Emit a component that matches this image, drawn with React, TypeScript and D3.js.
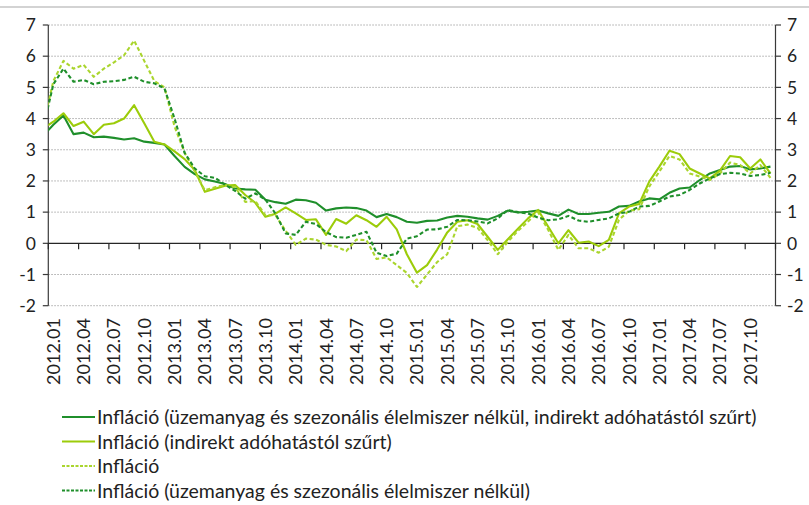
import React from 'react';
import * as d3 from 'd3';

// categories: monthly, 2012.01 - 2017.12
const years = ['2012', '2013', '2014', '2015', '2016', '2017'];
const months = ['01', '02', '03', '04', '05', '06', '07', '08', '09', '10', '11', '12'];
const categories = years.flatMap(y => months.map(m => `${y}.${m}`));
const yTicks = [-2, -1, 0, 1, 2, 3, 4, 5, 6, 7];

// value of 2011.12, only the part right of the axis is visible
const leadIn = { coreTax: 3.46, tax: 3.68, headline: 3.8, core: 3.7 };

// Infláció (üzemanyag és szezonális élelmiszer nélkül, indirekt adóhatástól szűrt)
const coreTax = [
  3.8, 4.1, 3.5, 3.55, 3.4, 3.42, 3.38, 3.33, 3.37, 3.26, 3.22, 3.17,
  2.8, 2.45, 2.22, 2.05, 1.98, 1.9, 1.76, 1.73, 1.72, 1.4, 1.32, 1.27,
  1.4, 1.38, 1.3, 1.05, 1.12, 1.15, 1.13, 1.05, 0.84, 0.94, 0.84, 0.69,
  0.66, 0.72, 0.73, 0.83, 0.88, 0.85, 0.8, 0.76, 0.88, 1.05, 0.99, 1.01,
  1.05, 0.96, 0.88, 1.08, 0.94, 0.94, 0.98, 1.01, 1.18, 1.2, 1.34, 1.44,
  1.41, 1.62, 1.76, 1.79, 2.03, 2.24, 2.35, 2.46, 2.48, 2.37, 2.4, 2.46,
];
// Infláció (indirekt adóhatástól szűrt)
const taxFiltered = [
  3.9, 4.17, 3.76, 3.9, 3.5, 3.8, 3.85, 4.0, 4.43, 3.85, 3.26, 3.17,
  2.95, 2.7, 2.35, 1.65, 1.75, 1.85, 1.87, 1.55, 1.3, 0.85, 0.95, 1.15,
  0.96, 0.75, 0.77, 0.27, 0.78, 0.63, 0.9, 0.74, 0.53, 0.85, 0.45, -0.35,
  -0.94, -0.7, -0.2, 0.35, 0.69, 0.74, 0.62, 0.21, -0.21, 0.13, 0.47, 0.8,
  1.07, 0.53, 0.0, 0.42, 0.02, 0.06, -0.09, 0.11, 0.96, 1.18, 1.26, 1.98,
  2.46, 2.97, 2.86, 2.4, 2.24, 2.08, 2.33, 2.8, 2.76, 2.4, 2.69, 2.24,
];
// Infláció
const headline = [
  5.2, 5.85, 5.6, 5.72, 5.34, 5.6, 5.8, 6.03, 6.5, 5.85, 5.2, 5.0,
  3.75, 2.9, 2.3, 1.7, 1.8, 1.87, 1.8, 1.33, 1.35, 0.9, 0.9, 0.4,
  -0.05, 0.15, 0.12, -0.05, -0.1, -0.25, 0.12, 0.1, -0.5, -0.45, -0.7, -0.95,
  -1.4, -1.0, -0.6, -0.35, 0.55, 0.6, 0.5, 0.1, -0.35, 0.05, 0.4, 0.7,
  1.0, 0.43, -0.21, 0.27, -0.16, -0.16, -0.3, -0.11, 0.75, 1.05, 1.09, 1.82,
  2.3, 2.8, 2.69, 2.24, 2.14, 2.03, 2.24, 2.59, 2.51, 2.24, 2.51, 2.1,
];
// Infláció (üzemanyag és szezonális élelmiszer nélkül)
const core = [
  5.1, 5.6, 5.18, 5.24, 5.1, 5.18, 5.2, 5.24, 5.34, 5.18, 5.13, 4.97,
  4.0, 2.9, 2.4, 2.15, 2.1, 1.88, 1.68, 1.43, 1.6, 1.4, 0.95, 0.32,
  0.27, 0.69, 0.62, 0.36, 0.2, 0.18, 0.27, 0.37, -0.3, -0.41, -0.33, 0.15,
  0.23, 0.44, 0.45, 0.53, 0.75, 0.74, 0.7, 0.64, 0.8, 1.07, 1.0, 0.96,
  0.82, 0.74, 0.77, 0.88, 0.73, 0.69, 0.75, 0.8, 0.96, 1.01, 1.18, 1.2,
  1.34, 1.5, 1.55, 1.71, 1.92, 2.08, 2.22, 2.26, 2.24, 2.16, 2.19, 2.26,
];

const DARK = '#1f8f2b';
const LIGHT = '#9ccc0a';
const LIGHT_DASH = '#aad52e';

const series = [
  { name: 'Infláció (üzemanyag és szezonális élelmiszer nélkül, indirekt adóhatástól szűrt)', values: coreTax, first: leadIn.coreTax, color: DARK, dash: '' },
  { name: 'Infláció (indirekt adóhatástól szűrt)', values: taxFiltered, first: leadIn.tax, color: LIGHT, dash: '' },
  { name: 'Infláció', values: headline, first: leadIn.headline, color: LIGHT_DASH, dash: '4,2.5' },
  { name: 'Infláció (üzemanyag és szezonális élelmiszer nélkül)', values: core, first: leadIn.core, color: DARK, dash: '4,2.5' },
];

const W = 809;
const H = 505;
const FONT = 'Lato, "Open Sans", sans-serif';

export default function App() {
  const left = 48.3;
  const right = 775.5;
  const x = d3.scaleLinear().domain([0, categories.length]).range([left, right]);
  const y = d3.scaleLinear().domain([-2, 7]).range([305.7, 25]);

  const line = d3.line<[number, number]>()
    .x(d => x(d[0] + 0.5))
    .y(d => y(d[1]));

  const boundaries = d3.range(0, categories.length + 1, 3);

  return (
    <svg width={W} height={H} style={{ position: 'absolute', left: 0, top: 0, background: '#fff' }}>
      <defs>
        <clipPath id="plot">
          <rect x={left} y={0} width={right - left} height={H} />
        </clipPath>
      </defs>
      <line x1={0} x2={W} y1={7} y2={7} stroke="#c4c4c4" strokeWidth={1.6} />

      {/* gridlines */}
      {yTicks.filter(t => t !== 0).map(t => (
        <line key={t} x1={left} x2={right} y1={y(t)} y2={y(t)} stroke="#a0a0a0" strokeWidth={0.9} strokeDasharray="1.5,1.5" />
      ))}

      {/* value axes */}
      <line x1={left} x2={left} y1={y(7)} y2={y(-2)} stroke="#3a3a3a" strokeWidth={1.2} />
      <line x1={right} x2={right} y1={y(7)} y2={y(-2)} stroke="#3a3a3a" strokeWidth={1.2} />
      {yTicks.map(t => (
        <g key={t}>
          <line x1={left - 5.5} x2={left} y1={y(t)} y2={y(t)} stroke="#3a3a3a" strokeWidth={1.2} />
          <line x1={right} x2={right + 5.5} y1={y(t)} y2={y(t)} stroke="#3a3a3a" strokeWidth={1.2} />
          <text x={36} y={y(t)} dy="0.36em" textAnchor="end" fontFamily={FONT} fontSize={17.5} fill="#222">{t}</text>
          <text x={787} y={y(t)} dy="0.36em" textAnchor="start" fontFamily={FONT} fontSize={17.5} fill="#222">{t}</text>
        </g>
      ))}

      {/* category axis at zero */}
      <line x1={left} x2={right} y1={y(0)} y2={y(0)} stroke="#262626" strokeWidth={1.3} />
      {boundaries.map(b => (
        <line key={b} x1={x(b)} x2={x(b)} y1={y(0)} y2={y(0) + 6} stroke="#262626" strokeWidth={1.2} />
      ))}

      {/* series */}
      <g clipPath="url(#plot)">
        {series.map(s => {
          const pts: [number, number][] = [[-1, s.first], ...s.values.map((v, i) => [i, v] as [number, number])];
          return (
            <path key={s.name} d={line(pts) || ''} fill="none" stroke={s.color} strokeWidth={2.1}
              strokeDasharray={s.dash || undefined} strokeLinejoin="round" />
          );
        })}
      </g>

      {/* category labels */}
      {categories.map((c, i) => i % 3 === 0 && (
        <text key={c} transform={`translate(${x(i + 0.5)},${318}) rotate(-90)`} dy="0.36em" textAnchor="end"
          fontFamily={FONT} fontSize={18} fill="#222">{c}</text>
      ))}

      {/* legend */}
      {series.map((s, i) => {
        const ly = 417 + i * 24.5;
        return (
          <g key={s.name}>
            <line x1={62} x2={95} y1={ly} y2={ly} stroke={s.color} strokeWidth={2.1} strokeDasharray={s.dash ? '3,1.5' : undefined} />
            <text x={97} y={ly} dy="0.36em" fontFamily={FONT} fontSize={19.5} fill="#222">{s.name}</text>
          </g>
        );
      })}
    </svg>
  );
}
